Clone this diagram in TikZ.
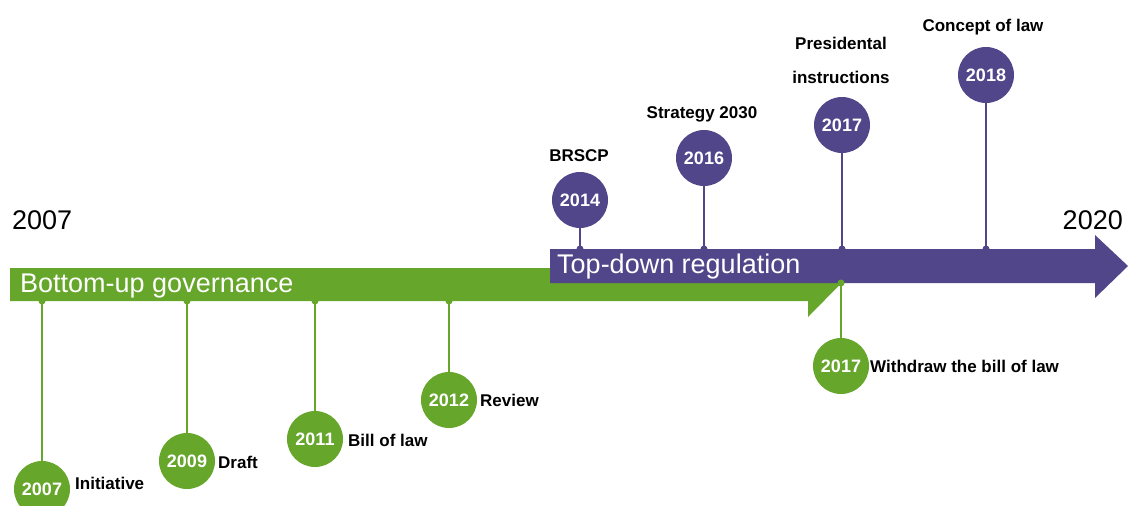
\documentclass[tikz,border=0pt]{standalone}
\usepackage{fontspec}
\setmainfont{Liberation Sans}
\definecolor{leafgreen}{RGB}{101,166,43}
\definecolor{inkpurple}{RGB}{82,70,138}
\begin{document}
\begin{tikzpicture}[x=1pt,y=-1pt,
  yearbig/.style={font=\fontsize{27}{30}\selectfont, inner sep=0pt},
  bandtext/.style={font=\fontsize{27}{30}\selectfont, text=white, inner sep=0pt, anchor=base west},
  event/.style={circle, minimum size=56pt, inner sep=0pt, text=white, font=\bfseries\fontsize{18}{21}\selectfont},
  gevent/.style={event, fill=leafgreen},
  pevent/.style={event, fill=inkpurple},
  caption/.style={font=\bfseries\fontsize{17}{20}\selectfont, inner sep=0pt},
  stem/.style={line width=2pt},
  joint/.style={circle, inner sep=0pt, minimum size=7pt},
]
\useasboundingbox (0,0) rectangle (1130,506);
\clip (0,0) rectangle (1130,506);

% the two phase arrows
\fill[leafgreen] (10,268) -- (808,268) -- (808,252) -- (840,284.5) -- (808,317) -- (808,301) -- (10,301) -- cycle;
\fill[inkpurple] (550,249) -- (1095,249) -- (1095,235) -- (1128,266) -- (1095,298) -- (1095,283) -- (550,283) -- cycle;

\node[bandtext] (phase1) at (20,292) {Bottom-up governance};
\node[bandtext] (phase2) at (557,273) {Top-down regulation};

\node[yearbig, anchor=base west] (start) at (12,229) {2007};
\node[yearbig, anchor=base east] (end) at (1123,229) {2020};

% junction points on the arrows
\node[joint, fill=leafgreen] (j2007) at (42,301) {};
\node[joint, fill=leafgreen] (j2009) at (187,301) {};
\node[joint, fill=leafgreen] (j2011) at (315,301) {};
\node[joint, fill=leafgreen] (j2012) at (449,301) {};
\node[joint, fill=leafgreen] (j2017w) at (841,283) {};
\node[joint, fill=inkpurple] (j2014) at (580,249) {};
\node[joint, fill=inkpurple] (j2016) at (704,249) {};
\node[joint, fill=inkpurple] (j2017) at (842,249) {};
\node[joint, fill=inkpurple] (j2018) at (986,249) {};

% event circles
\node[gevent] (g2007) at (42,489) {2007};
\node[gevent] (g2009) at (187,461) {2009};
\node[gevent] (g2011) at (315,439) {2011};
\node[gevent] (g2012) at (449,400) {2012};
\node[gevent] (g2017) at (841,366) {2017};
\node[pevent] (p2014) at (580,200) {2014};
\node[pevent] (p2016) at (704,158) {2016};
\node[pevent] (p2017) at (842,125) {2017};
\node[pevent] (p2018) at (986,75) {2018};

% stems
\draw[stem, leafgreen] (g2007) -- (j2007.center);
\draw[stem, leafgreen] (g2009) -- (j2009.center);
\draw[stem, leafgreen] (g2011) -- (j2011.center);
\draw[stem, leafgreen] (g2012) -- (j2012.center);
\draw[stem, leafgreen] (g2017) -- (j2017w.center);
\draw[stem, inkpurple] (p2014) -- (j2014.center);
\draw[stem, inkpurple] (p2016) -- (j2016.center);
\draw[stem, inkpurple] (p2017) -- (j2017.center);
\draw[stem, inkpurple] (p2018) -- (j2018.center);

% captions
\node[caption, anchor=base west] (t2007) at (75,489) {Initiative};
\node[caption, anchor=base west] (t2009) at (218,468) {Draft};
\node[caption, anchor=base west] (t2011) at (348,446) {Bill of law};
\node[caption, anchor=base west] (t2012) at (480,406) {Review};
\node[caption, anchor=base west] (t2017w) at (870,372) {Withdraw the bill of law};
\node[caption, anchor=base] (t2014) at (579,161) {BRSCP};
\node[caption, anchor=base] (t2016) at (702,118) {Strategy 2030};
\node[caption, anchor=base] (t2017a) at (841,49) {Presidental};
\node[caption, anchor=base] (t2017b) at (841,83) {instructions};
\node[caption, anchor=base] (t2018) at (983,31) {Concept of law};
\end{tikzpicture}
\end{document}
